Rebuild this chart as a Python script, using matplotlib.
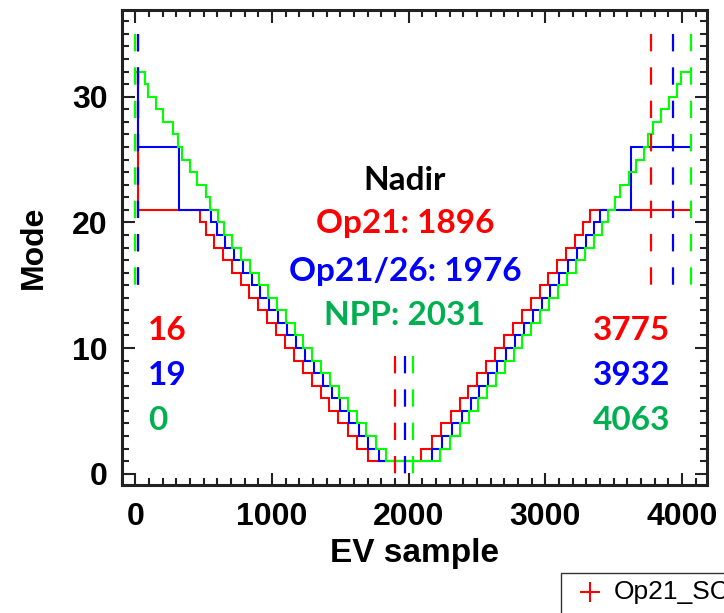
import matplotlib
matplotlib.use("Agg")
import matplotlib.pyplot as plt
from matplotlib.lines import Line2D
from matplotlib.patches import Rectangle

plt.rcParams['font.family'] = ['Liberation Sans', 'DejaVu Sans']
plt.rcParams['lines.scale_dashes'] = False

# aggregation mode vs EV sample (step edges and the mode held between them)
npp_edges = [0, 71, 90, 149, 205, 278, 310, 339, 400, 449, 514, 546, 605,
             650, 710, 775, 840, 905, 970, 1035, 1100, 1165, 1230, 1295,
             1360, 1425, 1490, 1555, 1620, 1690, 1760, 1835,
             2227, 2302, 2372, 2442, 2507, 2572, 2637, 2702, 2767, 2832,
             2897, 2962, 3027, 3092, 3157, 3222, 3287, 3352, 3412, 3460,
             3510, 3548, 3613, 3660, 3723, 3750, 3784, 3845, 3905, 3965,
             3991, 4063]
npp_modes = [32, 31, 30, 29, 28, 27, 26, 25, 24, 23, 22, 21, 20, 19, 18,
             17, 16, 15, 14, 13, 12, 11, 10, 9, 8, 7, 6, 5, 4, 3, 2, 1,
             2, 3, 4, 5, 6, 7, 8, 9, 10, 11, 12, 13, 14, 15, 16, 17, 18,
             19, 20, 21, 22, 23, 24, 25, 26, 27, 28, 29, 30, 31, 32]

op21_edges = [0, 16, 470, 515, 575, 640, 705, 770, 835, 900, 965, 1030,
              1095, 1160, 1225, 1290, 1355, 1420, 1485, 1555, 1625, 1700,
              2092, 2167, 2237, 2307, 2372, 2437, 2502, 2567, 2632, 2697,
              2762, 2827, 2892, 2957, 3022, 3087, 3152, 3217, 3277, 3325,
              4063]
op21_modes = [32, 21, 20, 19, 18, 17, 16, 15, 14, 13, 12, 11, 10, 9, 8,
              7, 6, 5, 4, 3, 2, 1, 2, 3, 4, 5, 6, 7, 8, 9, 10, 11, 12, 13,
              14, 15, 16, 17, 18, 19, 20, 21]

op2126_edges = [0, 19, 322, 550, 595, 655, 720, 785, 850, 915, 980, 1045,
                1110, 1175, 1240, 1305, 1370, 1435, 1500, 1565, 1635, 1705,
                1780, 2172, 2247, 2317, 2387, 2452, 2517, 2582, 2647, 2712,
                2777, 2842, 2907, 2972, 3037, 3102, 3167, 3232, 3297, 3357,
                3402, 3628, 4063]
op2126_modes = [32, 26, 21, 20, 19, 18, 17, 16, 15, 14, 13, 12, 11, 10, 9,
                8, 7, 6, 5, 4, 3, 2, 1, 2, 3, 4, 5, 6, 7, 8, 9, 10, 11, 12,
                13, 14, 15, 16, 17, 18, 19, 20, 21, 26]

# first / nadir / last sample of each scheme
names = ['Op21', 'Op21/26', 'NPP']
first_sample = [16, 19, 0]
nadir_sample = [1896, 1976, 2031]
last_sample = [3775, 3932, 4063]

curve_colors = ['#ff0000', '#0000ff', '#00ff00']
text_colors = ['#ff0000', '#0000ff', '#00b050']

fig = plt.figure(figsize=(7.24, 6.13), dpi=100)
ax = fig.add_axes([121.7 / 724, 1 - 485 / 613, 585 / 724, 475 / 613])

for edges, modes, c in zip([op21_edges, op2126_edges, npp_edges],
                           [op21_modes, op2126_modes, npp_modes],
                           curve_colors):
    ax.stairs(modes, edges, baseline=None, color=c, lw=1.5)

dash = (0, (12.5, 11.5))
for i in range(3):
    c = curve_colors[i]
    ax.plot([first_sample[i]] * 2, [35, 15], color=c, lw=1.6, linestyle=dash)
    ax.plot([nadir_sample[i]] * 2, [9.4, -0.2], color=c, lw=1.6, linestyle=dash)
    ax.plot([last_sample[i]] * 2, [35, 15], color=c, lw=1.6, linestyle=dash)

ax.set_xlim(-100, 4180)
ax.set_ylim(-0.9, 36.9)
ax.set_xticks([0, 1000, 2000, 3000, 4000])
ax.set_xticks(range(-100, 4200, 100), minor=True)
ax.set_yticks([0, 10, 20, 30])
ax.set_yticks(range(0, 37), minor=True)
ax.tick_params(which='both', direction='in', top=True, right=True,
               width=1.5, color='#222222')
ax.tick_params(which='major', length=9, labelsize=23, pad=10)
ax.tick_params(axis='x', which='major', pad=12)
ax.tick_params(which='minor', length=5)
for lab in ax.get_xticklabels() + ax.get_yticklabels():
    lab.set_fontweight('bold')
for s in ax.spines.values():
    s.set_linewidth(2.2)
    s.set_color('#222222')

ax.set_xlabel('EV sample', fontsize=24, fontweight='bold')
ax.set_ylabel('Mode', fontsize=23, fontweight='bold')
ax.xaxis.set_label_coords(0.5, -0.112)
ax.yaxis.set_label_coords(-0.125, 0.5)

tfont = dict(family=['Lato', 'DejaVu Sans'], fontweight='bold', fontsize=24)
ax.text(1972, 22.57, 'Nadir', color='black', ha='center', **tfont)
for i, yb in enumerate([19.15, 15.33, 11.83]):
    ax.text(1972, yb, f'{names[i]}: {nadir_sample[i]}', color=text_colors[i],
            ha='center', **tfont)
for i, yb in enumerate([10.63, 7.06, 3.48]):
    ax.text(92, yb, str(first_sample[i]), color=text_colors[i], ha='left', **tfont)
    ax.text(3347, yb, str(last_sample[i]), color=text_colors[i], ha='left', **tfont)

# legend box running off the lower right corner
fig.add_artist(Rectangle((561 / 724, -0.1), 0.5, 0.1 + (613 - 573) / 613,
                         transform=fig.transFigure, fill=False,
                         edgecolor='#333333', lw=1.0))
fig.add_artist(Line2D([590 / 724], [1 - 592 / 613], marker='+', color='#ff0000',
                      markersize=14, markeredgewidth=1.5, linestyle='none',
                      transform=fig.transFigure))
fig.text(614 / 724, 1 - 592 / 613, 'Op21_SC', fontsize=19, va='center', ha='left')

fig.savefig('out.png', dpi=100)
